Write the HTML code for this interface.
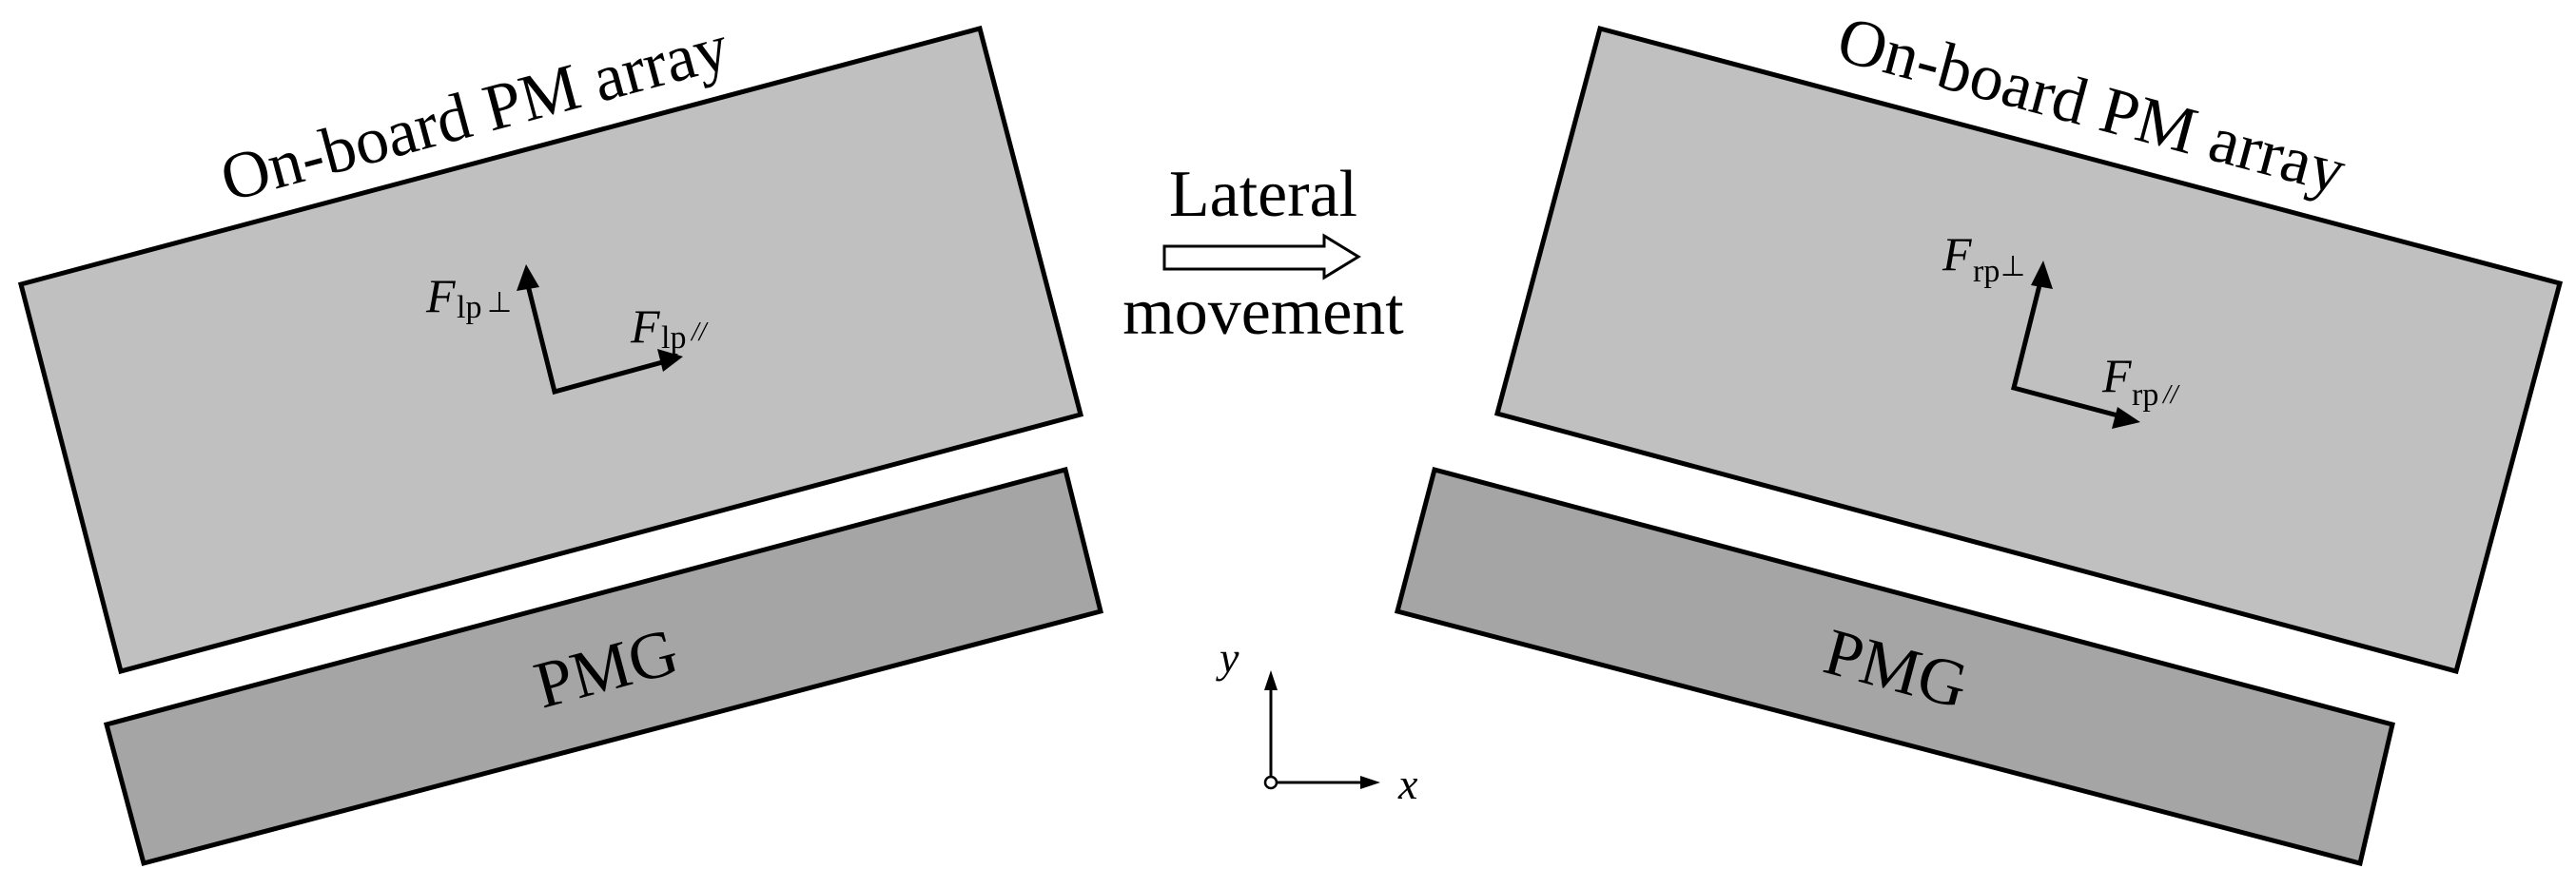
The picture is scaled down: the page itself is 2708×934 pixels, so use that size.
<!DOCTYPE html>
<html><head><meta charset="utf-8"><style>html,body{margin:0;padding:0;background:#fff}svg{display:block}text{font-family:"Liberation Serif",serif}</style></head>
<body>
<svg width="2708" height="934" viewBox="0 0 2708 934" xmlns="http://www.w3.org/2000/svg">
<defs>
<marker id="ah" markerWidth="10" markerHeight="8" refX="9" refY="4" orient="auto" markerUnits="userSpaceOnUse" viewBox="0 0 10 8">
</marker>
</defs>
<!-- Left -->
<polygon points="22,299 1030,30 1136,436 127,706" fill="#c0c0c0" stroke="#000" stroke-width="5" stroke-linejoin="miter"/>
<polygon points="112,762 1120,494 1157,643 151,908" fill="#a5a5a5" stroke="#000" stroke-width="5"/>
<text x="0" y="0" font-size="70" transform="translate(240,212) rotate(-15)">On-board PM array</text>
<text x="0" y="0" font-size="70" transform="translate(570,745) rotate(-15)">PMG</text>
<!-- left arrows -->
<polyline points="555,300 583,412 700,380" fill="none" stroke="#000" stroke-width="5"/>
<polygon points="553,278 543,306 567,302" fill="#000"/>
<polygon points="718,375 691,367 697,391" fill="#000"/>
<text x="448" y="328" font-size="50" font-style="italic">F</text>
<text x="480" y="334" font-size="34">lp</text>
<text x="512" y="328" font-size="30">⊥</text>
<text x="663" y="360" font-size="50" font-style="italic">F</text>
<text x="695" y="366" font-size="34">lp</text>
<text x="727" y="358" font-size="28" font-style="italic">//</text>
<!-- Middle -->
<text x="1328" y="227" font-size="70" text-anchor="middle">Lateral</text>
<polygon points="1224,259 1392,259 1392,248 1428,270 1392,292 1392,283 1224,283" fill="#fff" stroke="#000" stroke-width="3"/>
<text x="1328" y="351" font-size="70" text-anchor="middle">movement</text>
<line x1="1336" y1="818" x2="1336" y2="720" stroke="#000" stroke-width="3"/>
<polygon points="1336,705 1329,726 1343,726" fill="#000"/>
<line x1="1342" y1="823" x2="1436" y2="823" stroke="#000" stroke-width="3"/>
<polygon points="1451,823 1430,816 1430,830" fill="#000"/>
<circle cx="1336" cy="823" r="6" fill="#fff" stroke="#000" stroke-width="2.5"/>
<text x="1282" y="707" font-size="46" font-style="italic">y</text>
<text x="1470" y="840" font-size="46" font-style="italic">x</text>
<!-- Right -->
<polygon points="1682,30 2691,298 2582,706 1574,435" fill="#c0c0c0" stroke="#000" stroke-width="5"/>
<polygon points="1508,494 2515,762 2481,908 1469,643" fill="#a5a5a5" stroke="#000" stroke-width="5"/>
<text x="0" y="0" font-size="70" transform="translate(1928,62) rotate(15)">On-board PM array</text>
<text x="0" y="0" font-size="70" transform="translate(1914,706) rotate(15)">PMG</text>
<polyline points="2145,296 2117,408 2230,438" fill="none" stroke="#000" stroke-width="5"/>
<polygon points="2148,274 2135,300 2158,304" fill="#000"/>
<polygon points="2250,444 2226,428 2220,451" fill="#000"/>
<text x="2042" y="284" font-size="50" font-style="italic">F</text>
<text x="2074" y="296" font-size="34">rp</text>
<text x="2103" y="290" font-size="30">⊥</text>
<text x="2210" y="412" font-size="50" font-style="italic">F</text>
<text x="2241" y="426" font-size="34">rp</text>
<text x="2274" y="424" font-size="28" font-style="italic">//</text>
</svg>
</body></html>
